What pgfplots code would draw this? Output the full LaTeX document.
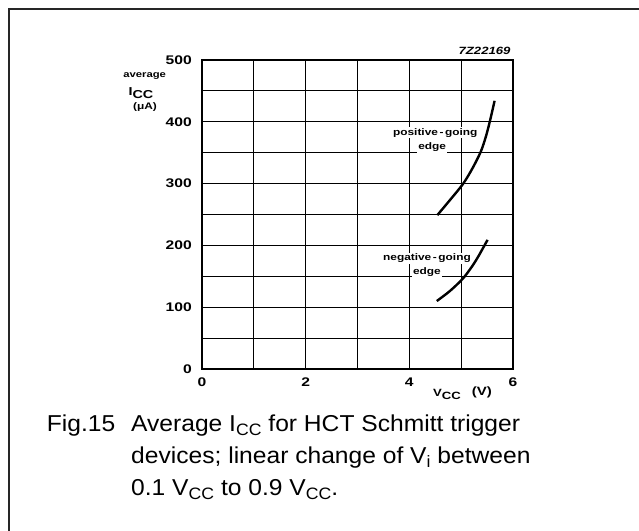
\documentclass[border=0pt]{standalone}
\usepackage{fontspec}
\setmainfont{Liberation Sans}
\newfontfamily\lab[FakeStretch=1.25]{Liberation Sans}
\newfontfamily\capfont[FakeStretch=1.07]{Liberation Sans}
\usepackage{pgfplots}
\pgfplotsset{compat=1.18}

% curves (V_CC in V, I_CC in uA)
\pgfplotstableread{
x y
4.54 249
4.80 275
5.04 300
5.22 325
5.38 352
5.48 377
5.56 403
5.645 434
}\posedge
\pgfplotstableread{
x y
4.53 110
4.78 126
5.03 146
5.21 166
5.33 182
5.43 197
5.51 209
}\negedge

\newcommand{\capsub}[1]{\raisebox{-0.2em}{\fontsize{16.5bp}{17bp}\selectfont #1}}

\begin{document}
\begin{tikzpicture}
\path[use as bounding box] (0,0) rectangle (639bp,-531bp);
% frame (top and left only)
\draw[line width=2bp, black!85] (8.5bp,-531bp) -- (8.5bp,-8.5bp) -- (639bp,-8.5bp);

\begin{axis}[
  scale only axis,
  width=311bp, height=309bp,
  anchor=south west, at={(202bp,-369bp)},
  xmin=0, xmax=6, ymin=0, ymax=500,
  xtick={0,2,4,6}, minor xtick={1,3,5},
  ytick={0,100,...,500}, minor ytick={50,150,...,450},
  grid=both,
  major grid style={line width=1.1bp, black},
  minor grid style={line width=1.1bp, black},
  axis line style={line width=1.4bp},
  major tick length=0pt, minor tick length=0pt,
  /pgf/number format/assume math mode=true,
  ticklabel style={font=\lab\bfseries\fontsize{12.5bp}{14bp}\selectfont, inner sep=0pt},
  yticklabel style={anchor=east, xshift=-10bp},
  xticklabel style={anchor=north, yshift=-9bp},
]
\addplot[line width=2.4bp, smooth] table {\posedge};
\addplot[line width=2.4bp, smooth] table {\negedge};

\node[fill=white, inner sep=1bp, font=\lab\bfseries\fontsize{9.5bp}{10bp}\selectfont] at (axis cs:4.50,382) {positive\,-\,going};
\node[fill=white, inner sep=1bp, font=\lab\bfseries\fontsize{9.5bp}{10bp}\selectfont] at (axis cs:4.44,359) {edge};
\node[fill=white, inner sep=1bp, font=\lab\bfseries\fontsize{9.5bp}{10bp}\selectfont] at (axis cs:4.34,179) {negative\,-\,going};
\node[fill=white, inner sep=1bp, font=\lab\bfseries\fontsize{9.5bp}{10bp}\selectfont] at (axis cs:4.34,157) {edge};
\end{axis}

% axis titles and figure number
\node[font=\lab\bfseries\fontsize{9bp}{10bp}\selectfont] at (144.7bp,-76bp) {average};
\node[font=\lab\bfseries\fontsize{11.5bp}{12bp}\selectfont] at (141bp,-93bp) {I\raisebox{-3.5bp}{CC}};
\node[font=\lab\bfseries\fontsize{9.5bp}{11bp}\selectfont] at (145bp,-107bp) {(μA)};
\node[font=\lab\bfseries\fontsize{10.5bp}{12bp}\selectfont, anchor=base west, inner sep=0pt] at (433bp,-396bp) {V\raisebox{-3.5bp}{CC}\hspace{11bp}{\fontsize{12bp}{12bp}\selectfont\raisebox{1bp}{(V)}}};
\node[font=\lab\bfseries\itshape\fontsize{10.5bp}{12bp}\selectfont, anchor=east] at (514bp,-51bp) {7Z22169};

% caption
\begin{scope}[every node/.style={anchor=base west, inner sep=0pt, font=\capfont\fontsize{23bp}{26bp}\selectfont}]
\node at (46.7bp,-431bp) {Fig.15};
\node at (131bp,-431bp) {Average I\capsub{CC} for HCT Schmitt trigger};
\node at (131bp,-463bp) {devices; linear change of V\capsub{i} between};
\node at (131bp,-495bp) {0.1 V\capsub{CC} to 0.9 V\capsub{CC}.};
\end{scope}
\end{tikzpicture}
\end{document}
